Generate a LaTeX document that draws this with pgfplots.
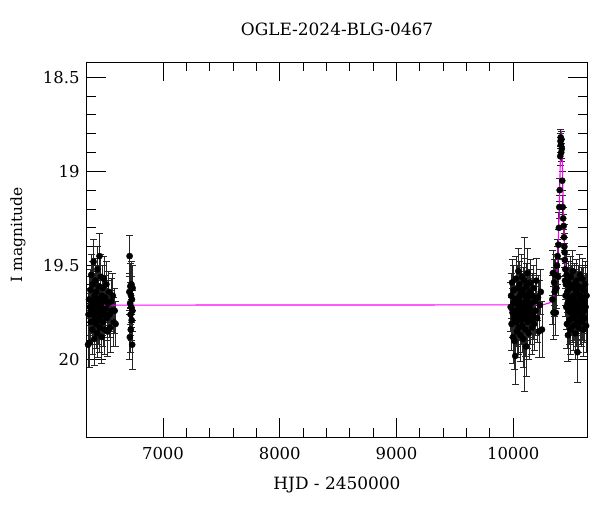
\documentclass[border=0pt]{standalone}
\usepackage{pgfplots}
\pgfplotsset{compat=1.18}
\usepackage{pgfplotstable}
\usepackage{fontspec}
\setmainfont{DejaVu Serif}
\definecolor{model}{RGB}{255,0,255}

\pgfplotstableread{
t m e
6358 19.92 0.12
6362 19.76 0.11
6366 19.68 0.12
6370 19.91 0.13
6374 19.72 0.10
6378 19.63 0.11
6381 19.80 0.12
6385 19.55 0.11
6388 19.74 0.12
6392 19.69 0.10
6395 19.84 0.13
6398 19.60 0.12
6402 19.76 0.11
6405 19.48 0.12
6408 19.71 0.11
6411 19.89 0.14
6414 19.66 0.12
6417 19.78 0.11
6420 19.58 0.12
6423 19.73 0.12
6426 19.81 0.13
6429 19.64 0.11
6432 19.70 0.12
6435 19.86 0.13
6438 19.52 0.12
6441 19.75 0.11
6444 19.68 0.12
6447 19.79 0.13
6450 19.61 0.11
6453 19.74 0.12
6456 19.45 0.12
6459 19.83 0.13
6462 19.70 0.12
6465 19.77 0.11
6468 19.56 0.12
6471 19.72 0.12
6474 19.88 0.14
6477 19.66 0.11
6480 19.75 0.12
6483 19.62 0.12
6486 19.80 0.13
6490 19.69 0.11
6494 19.57 0.12
6498 19.76 0.12
6502 19.84 0.13
6506 19.67 0.12
6510 19.73 0.11
6515 19.60 0.12
6520 19.78 0.12
6525 19.85 0.13
6530 19.70 0.12
6536 19.64 0.11
6542 19.76 0.12
6548 19.83 0.13
6555 19.69 0.12
6562 19.74 0.11
6570 19.66 0.12
6578 19.80 0.13
6586 19.74 0.12
6594 19.81 0.12
6712 19.64 0.10
6714 19.45 0.11
6716 19.88 0.12
6718 19.70 0.11
6720 19.61 0.12
6722 19.76 0.11
6724 19.84 0.12
6726 19.66 0.10
6728 19.72 0.11
6730 19.60 0.12
6732 19.79 0.11
6734 19.68 0.12
6736 19.92 0.13
6738 19.74 0.11
6740 19.62 0.12
9978 19.72 0.13
9982 19.66 0.12
9986 19.81 0.14
9990 19.59 0.12
9994 19.75 0.13
9998 19.88 0.14
10002 19.70 0.12
10005 19.63 0.13
10008 19.78 0.12
10011 19.90 0.15
10014 19.68 0.12
10017 19.98 0.15
10020 19.74 0.13
10023 19.57 0.12
10026 19.80 0.13
10029 19.69 0.12
10032 19.85 0.14
10035 19.62 0.12
10038 19.76 0.13
10041 19.71 0.12
10044 19.53 0.12
10047 19.83 0.14
10050 19.67 0.12
10053 19.77 0.13
10056 19.60 0.12
10059 19.73 0.13
10062 19.87 0.14
10065 19.65 0.12
10068 19.79 0.13
10071 19.70 0.12
10074 19.56 0.12
10077 19.82 0.14
10080 19.74 0.13
10083 19.63 0.12
10086 19.89 0.15
10089 19.71 0.12
10092 19.78 0.13
10094 19.76 0.41
10095 19.58 0.12
10098 19.75 0.13
10101 19.66 0.12
10104 19.84 0.14
10107 19.69 0.12
10110 19.93 0.16
10113 19.61 0.12
10116 19.77 0.13
10119 19.72 0.12
10122 19.54 0.13
10125 19.80 0.14
10128 19.67 0.12
10131 19.75 0.13
10135 19.86 0.14
10139 19.64 0.12
10143 19.73 0.13
10147 19.59 0.12
10151 19.79 0.13
10155 19.70 0.12
10160 19.83 0.14
10165 19.66 0.12
10170 19.76 0.13
10175 19.62 0.12
10180 19.81 0.14
10186 19.69 0.12
10192 19.74 0.13
10198 19.58 0.12
10205 19.78 0.13
10212 19.67 0.12
10220 19.85 0.14
10228 19.71 0.13
10236 19.64 0.12
10246 19.84 0.15
10335 19.68 0.13
10340 19.54 0.12
10345 19.75 0.14
10350 19.59 0.12
10355 19.64 0.13
10360 19.55 0.11
10365 19.75 0.12
10370 19.62 0.11
10375 19.50 0.10
10380 19.45 0.09
10385 19.56 0.10
10388 19.39 0.08
10391 19.30 0.08
10395 19.19 0.06
10398 19.10 0.06
10403 18.92 0.05
10405 18.84 0.04
10407 18.82 0.04
10409 18.86 0.04
10411 18.90 0.05
10413 18.83 0.04
10416 18.88 0.05
10420 19.05 0.05
10424 19.19 0.06
10428 19.25 0.06
10432 19.29 0.06
10435 19.35 0.07
10438 19.40 0.07
10440 19.43 0.08
10442 19.47 0.09
10444 19.58 0.10
10446 19.52 0.10
10448 19.66 0.11
10451 19.60 0.11
10454 19.72 0.12
10457 19.55 0.11
10460 19.81 0.13
10463 19.64 0.11
10466 19.70 0.12
10469 19.87 0.14
10472 19.59 0.11
10475 19.74 0.12
10478 19.67 0.12
10481 19.79 0.13
10484 19.62 0.11
10487 19.71 0.12
10490 19.84 0.13
10493 19.56 0.11
10496 19.75 0.12
10499 19.68 0.12
10502 19.61 0.11
10505 19.78 0.13
10508 19.70 0.12
10511 19.53 0.11
10514 19.82 0.13
10517 19.66 0.12
10520 19.73 0.12
10523 19.60 0.11
10526 19.77 0.13
10529 19.69 0.12
10532 19.86 0.14
10535 19.63 0.11
10538 19.74 0.12
10541 19.58 0.11
10544 19.80 0.13
10547 19.71 0.12
10550 19.96 0.16
10553 19.65 0.12
10556 19.76 0.13
10559 19.61 0.11
10562 19.83 0.13
10565 19.68 0.12
10568 19.73 0.12
10571 19.55 0.11
10574 19.79 0.13
10577 19.66 0.12
10580 19.75 0.12
10583 19.62 0.11
10586 19.80 0.13
10589 19.70 0.12
10592 19.57 0.11
10595 19.77 0.13
10598 19.67 0.12
10601 19.84 0.14
10604 19.63 0.12
10607 19.74 0.12
10610 19.69 0.12
10613 19.78 0.13
10616 19.60 0.12
10620 19.72 0.12
10624 19.82 0.14
10628 19.66 0.12
}\obsdata

\pgfplotstableread{
t m
6349 19.710
10212 19.709
10262 19.707
10312 19.698
10332 19.685
10342 19.672
10352 19.651
10362 19.615
10367 19.589
10372 19.554
10377 19.507
10382 19.446
10387 19.364
10392 19.260
10394.5 19.199
10397 19.132
10399.5 19.061
10402 18.988
10404.5 18.919
10407 18.860
10409.5 18.820
10412 18.806
10414.5 18.820
10417 18.860
10419.5 18.919
10422 18.988
10424.5 19.061
10427 19.132
10429.5 19.199
10432 19.260
10437 19.364
10442 19.446
10447 19.507
10452 19.554
10457 19.589
10462 19.615
10472 19.651
10482 19.672
10492 19.685
10512 19.698
10562 19.707
10612 19.709
10632 19.709
}\modeldata

\begin{document}
\begin{tikzpicture}
\useasboundingbox (-87bp,-75bp) rectangle (513bp,437bp);
\begin{axis}[
  at={(0,0)}, anchor=south west,
  scale only axis, width=500bp, height=375bp,
  xmin=6349, xmax=10632, ymin=18.42, ymax=20.41,
  y dir=reverse,
  xtick={7000,8000,9000,10000}, minor x tick num=4,
  ytick={18.5,19,19.5,20}, minor y tick num=4,
  scaled x ticks=false, scaled y ticks=false,
  tick align=inside, xtick pos=both, ytick pos=both,
  major tick length=19bp, minor tick length=9bp,
  every tick/.style={black, line width=0.8bp},
  axis line style={black, line width=1bp},
  /pgf/number format/assume math mode=true,
  /pgf/number format/1000 sep={},
  tick label style={font=\fontsize{16.5}{18}\selectfont},
  xticklabel style={yshift=-7bp},
  yticklabel style={xshift=-4bp},
  title={OGLE-2024-BLG-0467},
  title style={font=\fontsize{17}{19}\selectfont, at={(axis description cs:0.5,1)}, anchor=center, yshift=27bp},
  xlabel={HJD - 2450000},
  xlabel style={font=\fontsize{17}{19}\selectfont, at={(axis description cs:0.5,0)}, anchor=center, yshift=-48bp},
  ylabel={I magnitude},
  ylabel style={font=\fontsize{15.5}{17}\selectfont, at={(axis description cs:-0.138,0.539)}, anchor=center},
]
\addplot[only marks, mark=*, mark size=3.1bp, black,
  error bars/.cd, y dir=both, y explicit,
  error bar style={black!85, line width=0.8bp},
  error mark options={rotate=90, mark size=3.5bp, black!85, line width=0.8bp}]
  table[x=t, y=m, y error=e] {\obsdata};
\addplot[model, line width=1.1bp, no marks] table[x=t, y=m] {\modeldata};
\end{axis}
\end{tikzpicture}
\end{document}
